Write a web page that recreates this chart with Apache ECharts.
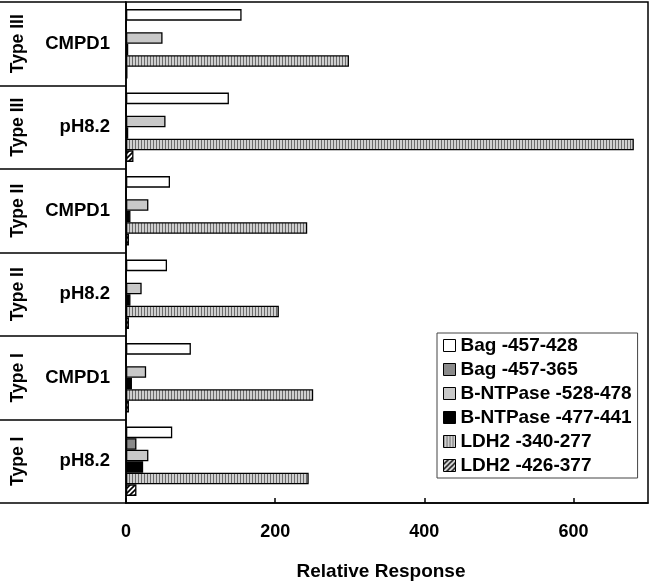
<!DOCTYPE html>
<html><head><meta charset="utf-8">
<script src="https://cdn.jsdelivr.net/npm/echarts@6/dist/echarts.min.js"></script>
<style>html,body{margin:0;padding:0;background:#fff}#c{width:650px;height:582px}</style>
</head><body><div id="c"></div><script>
// Categories listed top to bottom
const subLabels = ['CMPD1', 'pH8.2', 'CMPD1', 'pH8.2', 'CMPD1', 'pH8.2'];
const typeLabels = ['Type III', 'Type III', 'Type II', 'Type II', 'Type I', 'Type I'];
const categoryKeys = subLabels.map((s, i) => typeLabels[i] + ' ' + s);

const seriesNames = ['Bag -457-428', 'Bag -457-365', 'B-NTPase -528-478', 'B-NTPase -477-441', 'LDH2 -340-277', 'LDH2 -426-377'];
const bag428 = [155, 138, 59, 55, 87, 62];
const bag365 = [0, 0, 0, 0, 0, 14];
const ntp528 = [49, 53, 30, 21, 27, 30];
const ntp477 = [3, 3, 6, 6, 8, 23];
const ldh340 = [299, 681, 243, 205, 251, 245];
const ldh426 = [2, 10, 4, 4, 4, 14];
const xTickLabels = [0, 200, 400, 600];
const xAxisTitle = 'Relative Response';

function stripePattern() {
  const c = document.createElement('canvas'); c.width = 3; c.height = 4;
  const g = c.getContext('2d');
  g.fillStyle = '#cfcfcf'; g.fillRect(0, 0, 3, 4);
  g.fillStyle = '#6a6a6a'; g.fillRect(0, 0, 1, 4);
  return { image: c, repeat: 'repeat' };
}
function hatchPattern() {
  const c = document.createElement('canvas'); c.width = 5; c.height = 5;
  const g = c.getContext('2d');
  g.fillStyle = '#fff'; g.fillRect(0, 0, 5, 5);
  g.strokeStyle = '#000'; g.lineWidth = 1.6;
  g.beginPath();
  g.moveTo(-1, 6); g.lineTo(6, -1);
  g.moveTo(-1, 1); g.lineTo(1, -1);
  g.moveTo(4, 6); g.lineTo(6, 4);
  g.stroke();
  return { image: c, repeat: 'repeat' };
}

const FONT = "'Liberation Sans', Arial, sans-serif";
const fills = ['#ffffff', '#8a8a8a', '#c8c8c8', '#000000', stripePattern(), hatchPattern()];
const dataSets = [bag428, bag365, ntp528, ntp477, ldh340, ldh426];

const chart = echarts.init(document.getElementById('c'), null, { renderer: 'canvas' });
chart.setOption({
  animation: false,
  backgroundColor: '#fff',
  textStyle: { fontFamily: FONT },
  grid: { left: 126, right: 2, top: 2, bottom: 79, outerBoundsMode: 'none', containLabel: false,
    show: true, borderColor: '#000', borderWidth: 1.5, backgroundColor: 'transparent' },
  legend: {
    orient: 'vertical', left: 437, top: 333,
    backgroundColor: '#fff', borderColor: '#444', borderWidth: 1,
    padding: [3, 6, 3, 6],
    itemWidth: 12, itemHeight: 12, itemGap: 5,
    icon: 'rect',
    textStyle: { fontFamily: FONT, fontWeight: 'bold', fontSize: 19, lineHeight: 19, color: '#000' },
    itemStyle: { borderColor: '#000', borderWidth: 1 },
    data: seriesNames
  },
  xAxis: {
    type: 'value', min: 0, max: 700, interval: 200,
    axisLine: { show: true, lineStyle: { color: '#000', width: 1.5 } },
    axisTick: { show: true, inside: true, length: 5, lineStyle: { color: '#000', width: 1.5 } },
    axisLabel: { margin: 20, color: '#000', fontWeight: 'bold', fontSize: 18, fontFamily: FONT, showMaxLabel: false,
      formatter: v => (xTickLabels.indexOf(v) >= 0 ? String(v) : '') },
    splitLine: { show: false },
    name: xAxisTitle, nameLocation: 'middle', nameGap: 59,
    nameTextStyle: { color: '#000', fontWeight: 'bold', fontSize: 19, fontFamily: FONT, padding: [0, 12, 0, 0] }
  },
  yAxis: [{
    type: 'category', inverse: true, data: categoryKeys,
    axisLine: { show: true, lineStyle: { color: '#000', width: 1.5 } },
    axisTick: { show: true, interval: 0, length: 126, lineStyle: { color: '#000', width: 1.5 } },
    axisLabel: { interval: 0, margin: 16, color: '#000', fontWeight: 'bold', fontSize: 18.5, fontFamily: FONT,
      formatter: (v, i) => subLabels[i] }
  }, {
    type: 'category', inverse: true, data: categoryKeys, position: 'left',
    axisLine: { show: false }, axisTick: { show: false },
    axisLabel: { interval: 0, rotate: 90, margin: 99, color: '#000', fontWeight: 'bold', fontSize: 17.5, fontFamily: FONT,
      formatter: (v, i) => typeLabels[i] }
  }],
  series: seriesNames.map((name, k) => ({
    name, type: 'bar', yAxisIndex: 0,
    barGap: '0%', barCategoryGap: '17%',
    data: dataSets[k],
    itemStyle: { color: fills[k], borderColor: '#000', borderWidth: 1.3 }
  }))
});
</script></body></html>
